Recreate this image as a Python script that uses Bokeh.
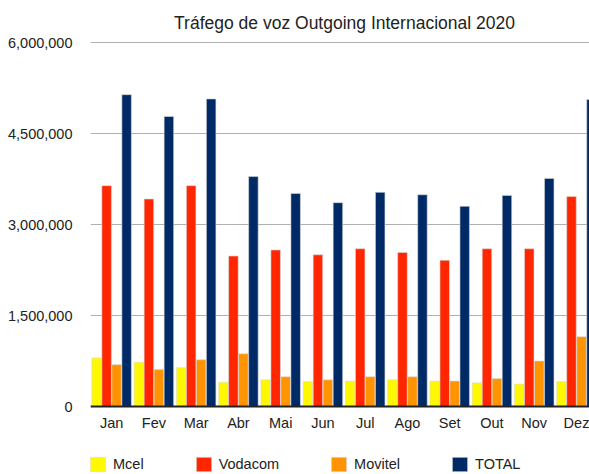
from bokeh.plotting import figure
from bokeh.models import ColumnDataSource, FixedTicker, NumeralTickFormatter, Range1d, Legend, LegendItem, Label
from bokeh.transform import dodge
from bokeh.embed import file_html
from bokeh.resources import INLINE

months = ["Jan", "Fev", "Mar", "Abr", "Mai", "Jun", "Jul", "Ago", "Set", "Out", "Nov", "Dez"]
mcel = [800000, 730000, 640000, 400000, 440000, 410000, 420000, 440000, 420000, 390000, 370000, 410000]
vodacom = [3640000, 3420000, 3640000, 2480000, 2580000, 2500000, 2600000, 2540000, 2410000, 2600000, 2600000, 3460000]
movitel = [690000, 610000, 770000, 870000, 490000, 440000, 490000, 490000, 420000, 460000, 750000, 1150000]
total = [5140000, 4780000, 5070000, 3790000, 3510000, 3360000, 3530000, 3490000, 3300000, 3480000, 3760000, 5060000]
y_ticks = [0, 1500000, 3000000, 4500000, 6000000]
title_text = "Tráfego de voz Outgoing Internacional 2020"

idx = list(range(len(months)))
src = ColumnDataSource(dict(idx=idx, mcel=mcel, vodacom=vodacom, movitel=movitel, total=total))

FONT = "Liberation Sans"
W, H = 589, 474
TOP, LEFT, ZERO_Y = 42, 90, 406      # pixel rows of the 6M gridline, frame left, zero line
YMAX = 6000000
PX_PER_UNIT = (ZERO_Y - TOP) / YMAX
STEP = 42.26                          # pixels per month group
X0 = -0.5
X1 = X0 + (W - LEFT) / STEP
# frame covers the full height; x axis is pinned at 0 so title and legend sit inside the frame
y_lo = -(H - ZERO_Y) / PX_PER_UNIT
y_hi = YMAX + TOP / PX_PER_UNIT

p = figure(width=W, height=H, output_backend="svg", toolbar_location=None,
           x_range=Range1d(X0, X1), y_range=Range1d(y_lo, y_hi),
           min_border_left=LEFT, min_border_right=0, min_border_top=0, min_border_bottom=0)
p.outline_line_color = None
p.background_fill_color = "white"
p.border_fill_color = "white"

# title: centred at pixel x 344, baseline at pixel y 22
title = Label(x=X0 + (344 - LEFT) / STEP, y=YMAX + (TOP - 22) / PX_PER_UNIT, text=title_text,
              text_align="center", text_baseline="alphabetic",
              text_font=FONT, text_font_size="17.5px", text_color="#222222")
p.add_layout(title)

series = [("mcel", "Mcel", "#FFF800", -0.355),
          ("vodacom", "Vodacom", "#FF2600", -0.118),
          ("movitel", "Movitel", "#FF9300", 0.118),
          ("total", "TOTAL", "#002A66", 0.355)]
items = []
for col, label, color, off in series:
    r = p.vbar(x=dodge("idx", off, range=p.x_range), top=col, bottom=0, width=0.225, source=src,
               fill_color=color, line_color="#d8d8d8", line_width=0.6)
    items.append(LegendItem(label=label, renderers=[r]))

p.xaxis.fixed_location = 0
p.xaxis.ticker = FixedTicker(ticks=idx)
p.xaxis.major_label_overrides = {i: m for i, m in enumerate(months)}
p.xaxis.major_tick_line_color = None
p.xaxis.major_tick_out = 0
p.xaxis.major_tick_in = 0
p.xaxis.minor_tick_line_color = None
p.xaxis.axis_line_color = "#222222"
p.xaxis.axis_line_width = 2
p.xaxis.major_label_text_font = FONT
p.xaxis.major_label_text_font_size = "14.5px"
p.xaxis.major_label_text_color = "#222222"
p.xaxis.major_label_standoff = 8

p.yaxis.ticker = FixedTicker(ticks=y_ticks)
p.yaxis.formatter = NumeralTickFormatter(format="0,0")
p.yaxis.axis_line_color = None
p.yaxis.major_tick_line_color = None
p.yaxis.major_tick_out = 0
p.yaxis.major_tick_in = 0
p.yaxis.minor_tick_line_color = None
p.yaxis.major_label_text_font = FONT
p.yaxis.major_label_text_font_size = "14.5px"
p.yaxis.major_label_text_color = "#222222"
p.yaxis.major_label_standoff = 18

p.xgrid.grid_line_color = None
p.ygrid.ticker = FixedTicker(ticks=y_ticks)
p.ygrid.grid_line_color = "#b0b0b0"
p.ygrid.grid_line_width = 1

legend = Legend(items=items, orientation="horizontal", location=(-2, 1),
                glyph_width=19, glyph_height=18, label_standoff=6, label_width=0,
                spacing=50, padding=0, margin=0, border_line_color=None,
                background_fill_alpha=0,
                label_text_font=FONT, label_text_font_size="14.5px", label_text_color="#222222")
p.add_layout(legend, "center")

open("out.html", "w").write(file_html(p, INLINE))
